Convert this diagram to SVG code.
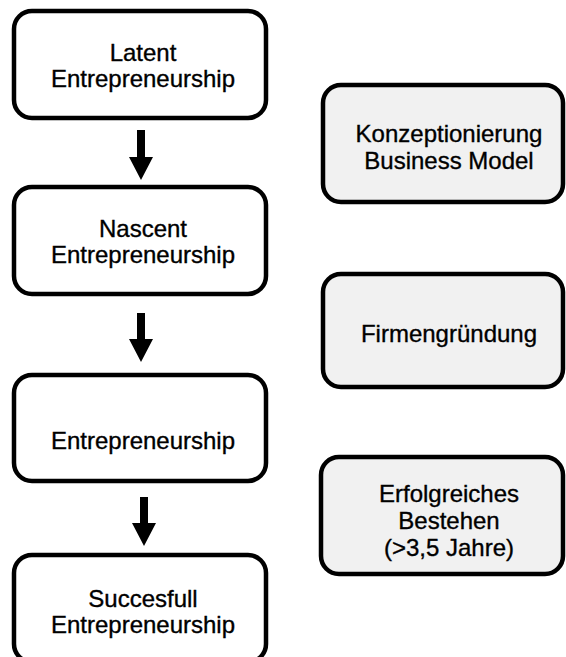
<svg xmlns="http://www.w3.org/2000/svg" width="566" height="657" viewBox="0 0 566 657">
<style>
.box{fill:#ffffff;stroke:#000000;stroke-width:4.5}
.gbox{fill:#f1f1f1;stroke:#000000;stroke-width:4.5}
.t{font-family:"Liberation Sans",Arial,sans-serif;font-size:24px;fill:#000000;stroke:#000000;stroke-width:0.35;text-anchor:middle}
.arr{fill:#000000}
</style>
<rect width="566" height="657" fill="#ffffff"/>
<g id="latent">
<rect class="box" x="14" y="11" width="252" height="107" rx="18" ry="18"/>
<text class="t" x="143" y="60.5">Latent</text>
<text class="t" x="143" y="86.5">Entrepreneurship</text>
</g>
<g id="nascent">
<rect class="box" x="14" y="187" width="252" height="107" rx="18" ry="18"/>
<text class="t" x="143" y="236.5">Nascent</text>
<text class="t" x="143" y="263">Entrepreneurship</text>
</g>
<g id="entrepreneurship">
<rect class="box" x="14" y="375" width="252" height="106" rx="18" ry="18"/>
<text class="t" x="143" y="449">Entrepreneurship</text>
</g>
<g id="successful">
<rect class="box" x="14" y="555" width="252" height="107" rx="18" ry="18"/>
<text class="t" x="143" y="606.5">Succesfull</text>
<text class="t" x="143" y="633">Entrepreneurship</text>
</g>
<g id="konzeption">
<rect class="gbox" x="323" y="85" width="240" height="117" rx="18" ry="18"/>
<text class="t" x="449" y="142">Konzeptionierung</text>
<text class="t" x="449" y="169">Business Model</text>
</g>
<g id="gruendung">
<rect class="gbox" x="323" y="274" width="240" height="113" rx="18" ry="18"/>
<text class="t" x="449" y="341.5">Firmengründung</text>
</g>
<g id="bestehen">
<rect class="gbox" x="321" y="457" width="242" height="117" rx="18" ry="18"/>
<text class="t" x="449" y="502">Erfolgreiches</text>
<text class="t" x="449" y="529">Bestehen</text>
<text class="t" x="449" y="556">(&gt;3,5 Jahre)</text>
</g>
<g id="connectors">
<polygon class="arr" points="137,130 145,130 145,157 153,157 141,180 129,157 137,157"/>
<polygon class="arr" points="137,313 145,313 145,339 153,339 141,362 129,339 137,339"/>
<polygon class="arr" points="140,497 148,497 148,523 156,523 144,546 132,523 140,523"/>
</g>
</svg>
